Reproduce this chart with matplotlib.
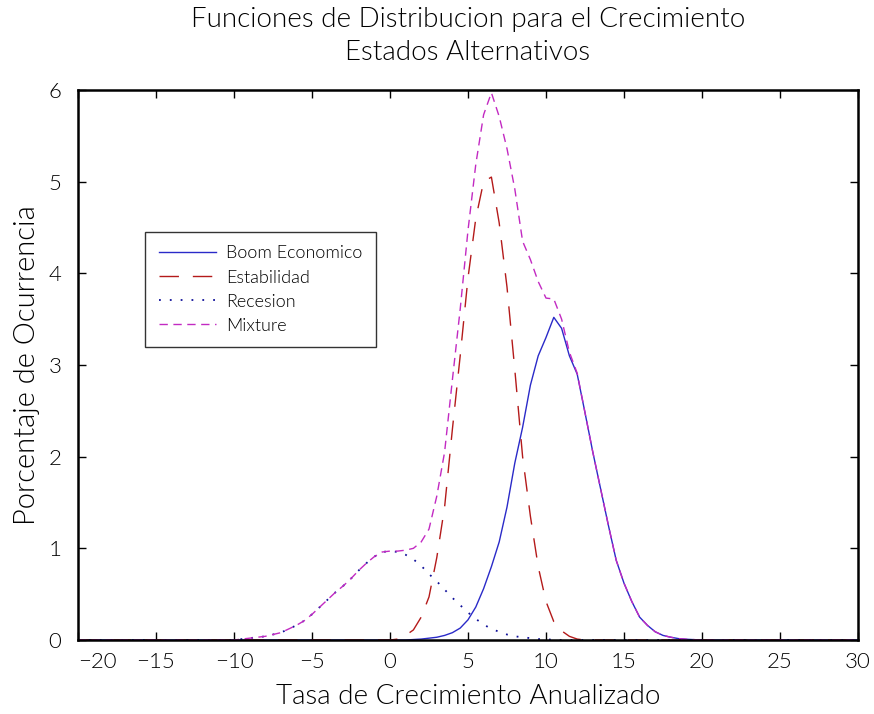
import matplotlib
matplotlib.use("Agg")
import matplotlib.pyplot as plt
import numpy as np

# --- datos (x de -20 a 30, paso 0.5; una fila = 5 unidades) ---
tasa = np.arange(-20, 30.5, 0.5)

boom = [
    0, 0, 0, 0, 0, 0, 0, 0, 0, 0,                              # -20
    0, 0, 0, 0, 0, 0, 0, 0, 0, 0,                              # -15
    0, 0, 0, 0, 0, 0, 0, 0, 0, 0,                              # -10
    0, 0, 0, 0, 0, 0, 0, 0, 0, 0,                              # -5
    0, 0, 0, 0.005, 0.01, 0.02, 0.03, 0.05, 0.08, 0.13,        # 0
    0.22, 0.36, 0.56, 0.80, 1.07, 1.45, 1.93, 2.32, 2.78, 3.10,  # 5
    3.30, 3.52, 3.40, 3.10, 2.90, 2.48, 2.05, 1.65, 1.25, 0.87,  # 10
    0.62, 0.42, 0.25, 0.16, 0.09, 0.05, 0.03, 0.015, 0.008, 0.004,  # 15
    0, 0, 0, 0, 0, 0, 0, 0, 0, 0,                              # 20
    0, 0, 0, 0, 0, 0, 0, 0, 0, 0,                              # 25
    0]                                                         # 30

estabilidad = [
    0, 0, 0, 0, 0, 0, 0, 0, 0, 0,
    0, 0, 0, 0, 0, 0, 0, 0, 0, 0,
    0, 0, 0, 0, 0, 0, 0, 0, 0, 0,
    0, 0, 0, 0, 0, 0, 0, 0, 0, 0,
    0, 0.01, 0.05, 0.11, 0.25, 0.47, 0.90, 1.45, 2.30, 3.10,
    3.95, 4.60, 5.00, 5.05, 4.55, 3.85, 2.95, 2.00, 1.35, 0.80,
    0.42, 0.20, 0.10, 0.04, 0.01, 0, 0, 0, 0, 0,
    0, 0, 0, 0, 0, 0, 0, 0, 0, 0,
    0, 0, 0, 0, 0, 0, 0, 0, 0, 0,
    0, 0, 0, 0, 0, 0, 0, 0, 0, 0,
    0]

recesion = [
    0, 0, 0, 0, 0, 0, 0, 0, 0, 0,
    0, 0, 0, 0, 0, 0, 0, 0, 0, 0,
    0, 0.01, 0.02, 0.03, 0.04, 0.06, 0.08, 0.12, 0.16, 0.21,
    0.28, 0.36, 0.44, 0.52, 0.59, 0.67, 0.76, 0.84, 0.91, 0.96,
    0.97, 0.96, 0.93, 0.88, 0.81, 0.72, 0.64, 0.55, 0.46, 0.38,
    0.30, 0.23, 0.17, 0.12, 0.09, 0.06, 0.04, 0.03, 0.02, 0.01,
    0.01, 0, 0, 0, 0, 0, 0, 0, 0, 0,
    0, 0, 0, 0, 0, 0, 0, 0, 0, 0,
    0, 0, 0, 0, 0, 0, 0, 0, 0, 0,
    0, 0, 0, 0, 0, 0, 0, 0, 0, 0,
    0]

mixture = [
    0, 0, 0, 0, 0, 0, 0, 0, 0, 0,
    0, 0, 0, 0, 0, 0, 0, 0, 0, 0,
    0, 0.01, 0.02, 0.03, 0.04, 0.06, 0.08, 0.12, 0.16, 0.21,
    0.28, 0.36, 0.44, 0.52, 0.59, 0.67, 0.76, 0.84, 0.91, 0.96,
    0.97, 0.97, 0.98, 1.00, 1.07, 1.21, 1.57, 2.05, 2.84, 3.61,
    4.47, 5.19, 5.73, 5.97, 5.71, 5.36, 4.92, 4.35, 4.15, 3.91,
    3.73, 3.72, 3.50, 3.14, 2.91, 2.48, 2.05, 1.65, 1.25, 0.87,
    0.62, 0.42, 0.25, 0.16, 0.09, 0.05, 0.03, 0.015, 0.008, 0.004,
    0, 0, 0, 0, 0, 0, 0, 0, 0, 0,
    0, 0, 0, 0, 0, 0, 0, 0, 0, 0,
    0]

xticks = [-20, -15, -10, -5, 0, 5, 10, 15, 20, 25, 30]
xticklabels = ['\u221220', '\u221215', '\u221210', '\u22125', '0', '5', '10', '15', '20', '25', '30']
yticks = [0, 1, 2, 3, 4, 5, 6]

plt.rcParams['font.family'] = ['Lato', 'DejaVu Sans']
plt.rcParams['font.weight'] = 300
plt.rcParams['text.color'] = 'black'
plt.rcParams['xtick.color'] = 'black'
plt.rcParams['ytick.color'] = 'black'

fig = plt.figure(figsize=(8.74, 7.14), dpi=100)
ax = fig.add_axes([78 / 874, 74 / 714, 780 / 874, 550 / 714])

ax.plot(tasa, boom, color='#2a2ac8', lw=1.0, label='Boom Economico')
ax.plot(tasa, estabilidad, color='#b41a1a', lw=1.0, dashes=(14, 10), label='Estabilidad')
ax.plot(tasa, recesion, color='#10109a', lw=1.3, dashes=(1, 5), label='Recesion')
ax.plot(tasa, mixture, color='#c22ac2', lw=1.0, dashes=(6, 4), label='Mixture')

ax.set_xlim(-20, 30)
ax.set_ylim(0, 6)
ax.set_xticks(xticks)
ax.set_xticklabels(xticklabels, fontsize=16)
ax.get_xticklabels()[0].set_horizontalalignment('left')
ax.set_yticks(yticks)
ax.set_yticklabels([str(v) for v in yticks], fontsize=16)
ax.tick_params(direction='in', length=6, width=1, top=True, right=True)
ax.tick_params(axis='x', pad=9)
ax.tick_params(axis='y', pad=12)
for s in ax.spines.values():
    s.set_linewidth(1.8)

leg = ax.legend(loc='upper left', bbox_to_anchor=(0.086, 0.742), borderaxespad=0,
                fancybox=False, frameon=True, edgecolor='black', fontsize=13,
                handlelength=3.2, handletextpad=0.55, labelspacing=0.45,
                borderpad=0.75)
leg.get_frame().set_linewidth(1.0)

fig.text(468 / 874, 1 - 20 / 714, 'Funciones de Distribucion para el Crecimiento',
         ha='center', va='center', fontsize=20)
fig.text(468 / 874, 1 - 52 / 714, 'Estados Alternativos',
         ha='center', va='center', fontsize=20)
fig.text(468 / 874, 1 - 697 / 714, 'Tasa de Crecimiento Anualizado',
         ha='center', va='center', fontsize=20)
fig.text(27 / 874, 1 - 365 / 714, 'Porcentaje de Ocurrencia',
         ha='center', va='center', rotation=90, fontsize=21)

fig.savefig('out.png', dpi=100)
